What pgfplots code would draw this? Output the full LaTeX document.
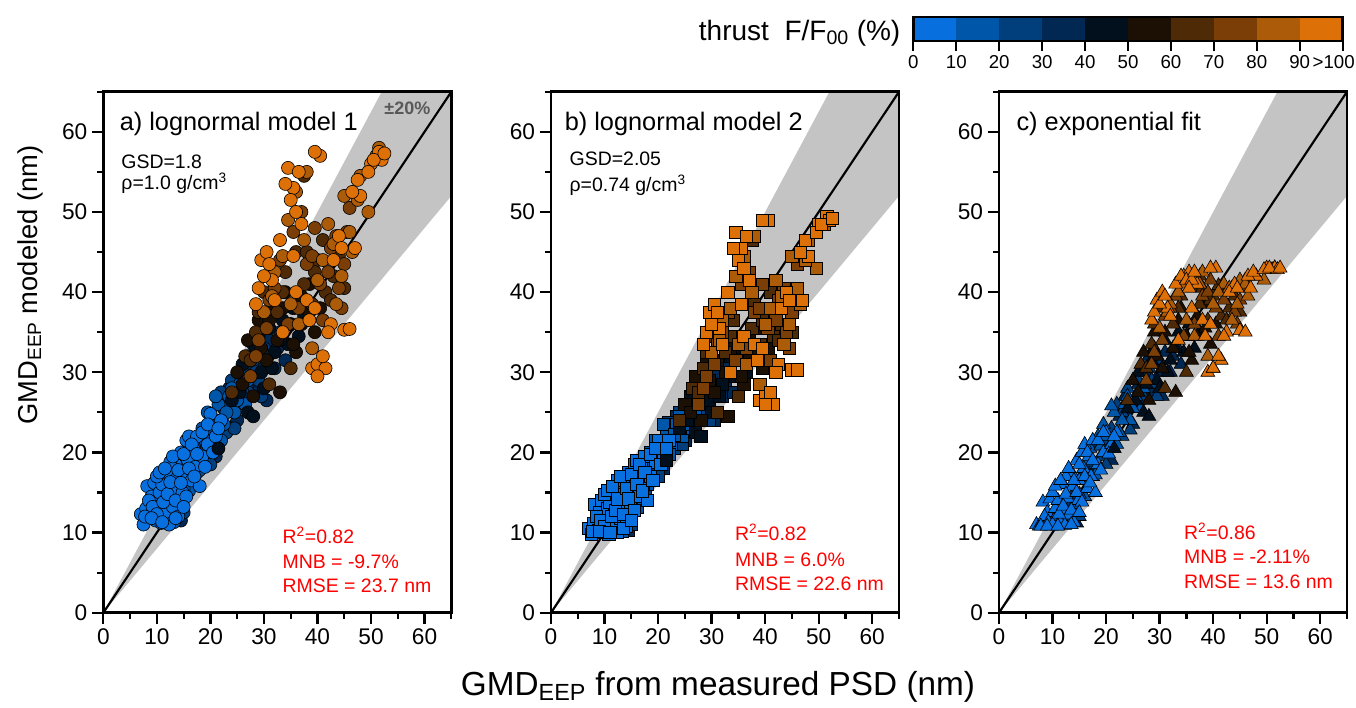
\documentclass[border=0pt]{standalone}
\usepackage{fontspec}
\setmainfont{Liberation Sans}
\usepackage{pgfplots}
\pgfplotsset{compat=1.18}
\usepackage{pgfplotstable}

\definecolor{c0}{RGB}{8,112,222}
\definecolor{c1}{RGB}{0,86,168}
\definecolor{c2}{RGB}{0,62,124}
\definecolor{c3}{RGB}{0,40,82}
\definecolor{c4}{RGB}{2,16,30}
\definecolor{c5}{RGB}{28,16,4}
\definecolor{c6}{RGB}{78,42,6}
\definecolor{c7}{RGB}{122,62,6}
\definecolor{c8}{RGB}{172,92,8}
\definecolor{c9}{RGB}{222,112,8}
\definecolor{band}{RGB}{196,196,196}

\pgfplotstableread{
x ya yb yc c
12.0 12.0 10.5 11.5 c3
14.5 11.5 10.3 11.2 c3
16.5 18.5 16.0 17.8 c3
18.0 21.5 19.0 20.8 c3
20.5 23.0 20.5 22.2 c3
22.5 25.5 22.5 24.5 c3
23.5 28.0 24.5 27.0 c3
25.0 24.0 21.5 23.5 c3
26.0 29.5 25.5 28.5 c3
27.5 31.0 27.0 30.0 c3
28.5 28.0 25.0 27.5 c3
29.5 32.5 28.0 31.0 c3
31.0 34.0 29.5 32.5 c3
32.0 30.5 27.0 30.0 c3
33.0 35.0 30.5 33.5 c3
30.5 26.5 24.0 27.0 c3
14.0 16.0 14.0 15.0 c3
19.5 22.5 20.0 21.5 c3
21.0 19.5 18.0 19.0 c3
24.0 25.5 22.5 24.5 c3
27.0 28.5 25.0 28.0 c3
28.0 33.5 29.0 32.0 c3
30.0 30.5 27.0 30.0 c3
32.5 33.0 29.0 32.0 c3
34.0 31.5 27.5 31.0 c3
13.0 14.0 12.5 13.0 c2
15.0 12.5 11.0 12.0 c2
17.5 17.5 15.5 17.0 c2
19.0 20.0 18.0 19.5 c2
21.0 24.0 21.0 23.0 c2
22.0 27.5 23.8 26.0 c2
23.0 22.5 20.5 22.0 c2
24.0 29.0 25.0 28.0 c2
25.0 26.5 23.5 25.5 c2
26.0 30.0 26.0 29.0 c2
27.0 27.5 24.5 27.0 c2
28.0 31.5 27.5 30.5 c2
29.0 29.0 25.5 28.5 c2
30.0 33.0 28.5 31.5 c2
20.0 18.5 17.0 18.5 c2
16.0 17.0 15.0 16.5 c2
18.0 19.0 17.0 18.5 c2
20.0 22.5 20.0 21.5 c2
21.5 21.0 19.0 20.5 c2
23.0 26.0 22.8 25.0 c2
24.5 23.0 21.0 22.8 c2
26.0 27.5 24.2 26.5 c2
27.0 32.0 28.0 30.5 c2
28.5 30.0 26.5 29.0 c2
29.5 27.0 24.0 27.0 c2
12.5 13.5 12.0 12.8 c1
14.0 14.5 12.5 13.5 c1
15.5 18.0 16.0 17.2 c1
17.0 21.0 18.5 20.5 c1
18.5 23.0 20.0 22.0 c1
19.5 25.0 21.5 23.5 c1
20.5 21.5 19.5 20.5 c1
21.5 26.0 22.5 25.0 c1
22.5 23.5 21.0 22.5 c1
23.5 27.0 23.5 26.0 c1
24.5 25.0 22.0 24.0 c1
25.5 28.5 25.0 27.0 c1
26.5 26.0 23.0 25.5 c1
16.0 15.2 13.2 14.5 c1
13.2 11.3 10.2 11.0 c1
15.0 15.5 13.8 14.8 c1
16.5 19.5 17.2 18.8 c1
18.0 17.8 16.0 17.2 c1
19.0 21.5 19.0 20.8 c1
20.0 23.0 20.2 22.0 c1
21.0 27.0 23.5 25.8 c1
22.0 21.5 19.8 21.0 c1
23.0 25.0 22.2 24.0 c1
24.0 28.0 24.5 27.0 c1
25.0 26.5 23.5 25.5 c1
27.0 29.0 25.5 28.0 c1
7.0 12.3 10.5 11.0 c0
7.5 11.0 9.8 10.8 c0
8.0 13.0 11.2 11.2 c0
8.2 15.8 13.5 13.8 c0
8.8 12.0 10.3 10.9 c0
9.0 14.5 12.5 12.5 c0
9.5 16.2 14.0 14.2 c0
9.8 11.5 10.0 10.8 c0
10.2 13.0 11.5 11.5 c0
10.5 15.0 13.0 13.0 c0
10.8 11.2 9.8 10.8 c0
11.0 16.0 13.8 14.0 c0
11.5 12.5 11.0 11.2 c0
11.8 14.2 12.3 12.8 c0
12.0 17.5 15.5 16.0 c0
12.3 11.0 10.0 10.9 c0
12.8 15.5 13.5 14.3 c0
13.0 13.2 11.8 12.2 c0
13.5 18.5 16.5 17.5 c0
13.8 16.8 14.8 15.8 c0
14.0 12.0 10.8 11.3 c0
14.5 20.0 17.5 19.0 c0
14.8 15.0 13.0 14.0 c0
15.0 17.5 15.5 16.5 c0
15.5 21.5 18.5 20.0 c0
15.8 19.0 16.5 18.0 c0
16.0 22.0 19.0 21.0 c0
16.5 16.5 14.5 15.5 c0
16.8 20.5 18.0 19.5 c0
17.2 18.2 16.0 17.0 c0
17.5 22.0 19.5 21.5 c0
18.0 15.8 14.0 15.0 c0
18.5 19.5 17.0 18.5 c0
19.5 21.0 18.8 20.0 c0
20.0 24.8 21.5 22.5 c0
21.0 22.0 20.0 21.0 c0
22.0 24.0 21.5 22.5 c0
12.5 18.8 16.5 17.0 c0
10.0 17.0 14.8 15.0 c0
8.5 14.0 12.0 12.0 c0
9.2 13.2 11.5 11.3 c0
10.0 12.3 10.8 11.0 c0
10.5 17.5 15.3 15.8 c0
11.2 13.8 12.0 12.3 c0
11.5 18.0 15.8 16.5 c0
12.0 14.8 12.8 13.3 c0
12.5 16.3 14.2 14.8 c0
13.0 19.5 17.0 18.0 c0
13.5 14.0 12.3 12.8 c0
14.0 17.8 15.5 16.5 c0
14.5 16.2 14.2 15.0 c0
15.0 19.8 17.3 18.5 c0
15.5 14.5 12.8 13.8 c0
16.0 18.0 16.0 17.0 c0
16.5 21.0 18.5 20.0 c0
17.0 17.0 15.2 16.2 c0
17.5 19.8 17.5 19.0 c0
18.5 22.5 19.8 21.5 c0
19.0 18.2 16.5 17.8 c0
19.5 23.5 20.5 22.5 c0
20.5 20.0 18.5 19.8 c0
21.5 23.0 20.5 22.0 c0
7.8 12.0 10.2 10.8 c0
9.0 11.8 10.2 10.8 c0
11.0 11.3 10.0 10.8 c0
13.5 11.8 10.5 11.0 c0
15.0 13.2 11.5 12.5 c0
21.5 20.5 19.0 20.5 c4
24.0 26.5 23.0 25.5 c4
26.0 31.0 27.0 30.0 c4
27.0 25.0 22.5 25.0 c4
28.5 33.0 28.5 31.5 c4
29.5 30.0 26.5 29.0 c4
31.0 35.5 31.0 34.0 c4
32.0 32.5 28.5 31.5 c4
33.5 36.5 32.0 35.0 c4
34.5 33.5 29.5 32.5 c4
35.5 38.0 33.0 36.0 c4
36.5 34.5 30.0 33.0 c4
30.0 28.0 25.0 28.0 c4
25.5 27.5 24.0 26.5 c4
27.5 29.5 26.0 28.5 c4
29.0 34.5 30.0 33.0 c4
31.5 30.5 27.0 30.0 c4
33.0 34.0 30.0 33.0 c4
35.0 36.0 31.5 34.5 c4
37.5 37.0 32.0 35.0 c4
28.0 24.5 22.0 24.5 c4
25.0 30.0 26.0 29.0 c5
27.0 34.0 29.5 32.5 c5
28.0 27.0 24.0 26.5 c5
29.0 36.5 31.5 35.0 c5
30.5 31.5 27.5 30.5 c5
31.5 38.5 33.5 37.0 c5
32.5 34.0 30.0 33.0 c5
34.0 40.0 34.5 38.0 c5
35.0 36.0 31.5 34.5 c5
36.0 32.5 28.5 31.5 c5
37.0 39.5 34.0 37.0 c5
38.5 37.5 32.5 35.5 c5
39.5 35.0 30.5 33.5 c5
33.0 27.5 24.5 27.5 c5
26.0 28.5 25.0 27.5 c5
29.5 33.0 29.0 32.0 c5
31.0 36.5 31.5 35.0 c5
33.5 38.0 33.0 36.5 c5
35.5 33.5 29.5 32.5 c5
37.0 36.0 31.5 34.5 c5
38.5 41.0 35.5 38.5 c5
40.5 38.0 33.0 36.0 c5
24.0 27.5 24.0 26.5 c6
26.5 32.0 28.0 31.0 c6
28.5 35.0 30.5 33.5 c6
30.0 40.0 34.5 38.0 c6
31.0 28.5 25.0 28.0 c6
32.5 37.5 32.5 36.0 c6
34.0 42.5 36.5 39.5 c6
35.0 30.5 27.0 30.0 c6
36.0 45.0 38.5 40.5 c6
37.5 41.0 35.5 38.5 c6
39.0 38.5 33.5 36.5 c6
40.0 44.0 37.5 39.5 c6
41.5 40.0 34.5 37.0 c6
43.0 42.0 36.0 38.0 c6
27.5 31.5 27.5 30.5 c6
29.0 37.5 32.5 36.0 c6
33.5 40.0 34.5 38.0 c6
38.0 45.0 38.5 40.5 c6
39.5 42.5 36.5 39.0 c6
41.0 46.5 40.0 40.8 c6
42.5 39.0 34.0 36.5 c6
44.0 44.5 38.0 39.5 c6
45.0 40.5 35.0 37.5 c6
37.5 54.5 46.5 42.0 c6
27.5 29.5 26.0 29.0 c7
29.0 34.0 29.5 32.5 c7
31.0 39.0 33.5 37.0 c7
33.0 44.0 37.5 39.5 c7
35.5 47.5 41.0 41.5 c7
36.5 38.0 33.0 36.0 c7
38.0 43.5 37.5 39.5 c7
39.5 48.0 41.0 41.5 c7
41.0 36.5 31.5 34.5 c7
42.5 45.5 39.0 40.0 c7
44.0 40.5 35.0 37.5 c7
45.5 47.5 40.5 40.5 c7
37.0 50.0 42.5 41.5 c7
30.5 35.5 31.0 34.0 c7
32.0 40.5 35.0 38.0 c7
34.5 36.0 31.5 34.5 c7
39.0 44.5 38.0 40.0 c7
40.5 41.0 35.5 38.0 c7
42.0 42.5 36.5 39.0 c7
43.5 47.0 40.5 40.5 c7
45.0 43.5 37.5 39.0 c7
46.0 50.5 43.5 41.5 c7
44.5 38.0 33.0 36.0 c7
28.5 32.0 28.0 31.0 c7
30.0 37.5 32.5 35.5 c8
32.0 42.5 36.5 38.5 c8
34.5 49.0 42.0 41.0 c8
36.0 52.5 44.5 42.0 c8
38.0 55.0 47.0 42.5 c8
40.0 41.5 36.0 38.5 c8
42.0 48.5 41.5 41.0 c8
43.5 38.5 33.5 36.5 c8
45.0 52.0 44.5 41.5 c8
46.5 45.0 38.5 39.5 c8
48.0 54.5 46.5 42.0 c8
49.5 50.0 43.0 41.5 c8
51.0 57.0 48.5 42.8 c8
39.0 33.0 28.5 32.0 c8
31.5 39.5 34.0 37.5 c8
33.5 44.5 38.0 40.0 c8
35.0 38.5 33.5 36.5 c8
37.5 46.5 40.0 41.0 c8
41.0 44.0 38.0 40.0 c8
43.0 46.0 39.5 40.5 c8
44.5 42.0 36.0 38.5 c8
46.0 47.5 40.5 41.0 c8
47.5 51.5 44.0 42.0 c8
51.5 58.0 49.5 43.0 c8
36.5 36.0 31.0 34.5 c8
28.5 38.5 33.5 36.5 c9
29.5 44.0 37.5 39.0 c9
30.5 45.0 38.5 40.0 c9
31.5 41.5 35.5 38.0 c9
33.0 46.5 40.0 41.0 c9
34.5 55.5 47.5 42.0 c9
35.5 53.0 45.5 42.5 c9
37.0 48.5 41.5 41.0 c9
38.5 36.5 31.5 34.5 c9
39.0 30.5 26.5 30.0 c9
40.0 31.0 27.0 30.5 c9
40.5 57.0 49.0 43.0 c9
41.5 30.5 26.0 31.5 c9
42.5 36.0 31.0 35.0 c9
44.0 47.0 40.0 41.0 c9
45.0 35.3 30.3 35.2 c9
46.0 35.4 30.3 35.0 c9
47.0 45.5 39.0 40.5 c9
48.0 52.0 44.5 42.0 c9
50.0 56.0 48.5 43.0 c9
51.5 57.5 49.5 43.0 c9
52.0 56.5 49.0 42.8 c9
36.0 40.0 34.5 38.0 c9
33.5 35.0 30.0 34.0 c9
29.0 40.5 35.0 37.5 c9
30.0 42.0 36.0 38.5 c9
31.0 43.5 37.5 39.5 c9
32.0 39.0 33.5 37.0 c9
34.0 53.5 45.5 42.0 c9
35.0 51.5 44.0 41.5 c9
36.0 50.0 43.0 41.5 c9
36.5 55.0 47.0 42.5 c9
39.5 57.5 49.0 43.0 c9
38.0 39.0 33.5 36.5 c9
39.5 38.0 33.0 36.0 c9
40.0 29.5 26.0 30.5 c9
41.0 32.0 27.5 32.0 c9
43.0 44.0 38.0 40.0 c9
44.5 45.5 39.0 40.5 c9
46.5 52.5 45.0 42.0 c9
47.5 54.0 46.5 42.5 c9
49.5 55.0 47.5 42.8 c9
50.5 56.5 48.5 43.0 c9
52.5 57.3 49.2 43.0 c9
42.0 35.0 30.0 34.5 c9
35.5 44.5 38.5 40.5 c9
}\data

\pgfplotsset{
  panel/.style={
    anchor=south west, scale only axis, width=261pt, height=390.75pt,
    xmin=0, xmax=65, ymin=0, ymax=65,
    xtick={0,10,...,60}, ytick={0,10,...,60},
    minor xtick={5,15,...,65}, minor ytick={5,15,...,65},
    tick align=outside, xtick pos=left, ytick pos=left,
    major tick length=8.5pt, minor tick length=4.5pt,
    axis line style={line width=2pt},
    tick style={line width=1.7pt, black},
    ticklabel style={font=\fontsize{17}{17}\selectfont},
    /pgf/number format/assume math mode=true,
    axis on top,
  },
  scat/.style={scatter, only marks, scatter src=explicit symbolic,
    scatter/classes={
      c0={draw=black,fill=c0}, c1={draw=black,fill=c1},
      c2={draw=black,fill=c2}, c3={draw=black,fill=c3},
      c4={draw=black,fill=c4}, c5={draw=black,fill=c5},
      c6={draw=black,fill=c6}, c7={draw=black,fill=c7},
      c8={draw=black,fill=c8}, c9={draw=black,fill=c9}},
    mark options={line width=0.45pt},
  },
}
\tikzset{
  ptitle/.style={anchor=base west, font=\fontsize{19}{19}\selectfont},
  pinfo/.style={anchor=base west, font=\fontsize{14.6}{14.6}\selectfont},
  pstat/.style={anchor=base west, font=\fontsize{14.6}{14.6}\selectfont, text=red},
}

\begin{document}
\begin{tikzpicture}
\useasboundingbox (0,0) rectangle (1017pt,530.25pt);

% ---------- panel a ----------
\begin{axis}[panel, at={(77.5pt,70.7pt)}]
\addplot[fill=band, draw=none] coordinates {(0,0) (65,52) (65,65) (52,65) (0,0)};
\addplot[black, line width=1.6pt] coordinates {(0,0) (65,65)};
\addplot[scat, mark=*, mark size=4.9pt] table[x=x, y=ya, meta=c] {\data};
\node[ptitle] at (axis cs:2.2,60.2) {a) lognormal model 1};
\node[pinfo] at (axis cs:2.5,55.4) {GSD=1.8};
\node[pinfo] at (axis cs:2.5,52.8) {ρ=1.0 g/cm\textsuperscript{3}};
\node[font=\bfseries\fontsize{13.5}{13.5}\selectfont, text=black!65] at (axis cs:56.8,62.9) {±20\%};
\node[pstat] at (axis cs:32.6,8.65) {R\textsuperscript{2}=0.82};
\node[pstat] at (axis cs:32.6,5.53) {MNB = -9.7\%};
\node[pstat] at (axis cs:32.6,2.50) {RMSE = 23.7 nm};
\end{axis}

% ---------- panel b ----------
\begin{axis}[panel, at={(413.25pt,70.7pt)}]
\addplot[fill=band, draw=none] coordinates {(0,0) (65,52) (65,65) (52,65) (0,0)};
\addplot[black, line width=1.6pt] coordinates {(0,0) (65,65)};
\addplot[scat, mark=square*, mark size=4.6pt] table[x=x, y=yb, meta=c] {\data};
\node[ptitle] at (axis cs:1.7,60.2) {b) lognormal model 2};
\node[pinfo] at (axis cs:2.6,55.8) {GSD=2.05};
\node[pinfo] at (axis cs:2.6,52.6) {ρ=0.74 g/cm\textsuperscript{3}};
\node[pstat] at (axis cs:33.5,8.98) {R\textsuperscript{2}=0.82};
\node[pstat] at (axis cs:33.5,5.82) {MNB = 6.0\%};
\node[pstat] at (axis cs:33.5,2.74) {RMSE = 22.6 nm};
\end{axis}

% ---------- panel c ----------
\begin{axis}[panel, at={(749.25pt,70.7pt)}]
\addplot[fill=band, draw=none] coordinates {(0,0) (65,52) (65,65) (52,65) (0,0)};
\addplot[black, line width=1.6pt] coordinates {(0,0) (65,65)};
\addplot[scat, mark=triangle*, mark size=6pt] table[x=x, y=yc, meta=c] {\data};
\node[ptitle] at (axis cs:2.4,60.2) {c) exponential fit};
\node[pstat] at (axis cs:33.7,9.19) {R\textsuperscript{2}=0.86};
\node[pstat] at (axis cs:33.7,6.16) {MNB = -2.11\%};
\node[pstat] at (axis cs:33.7,3.04) {RMSE = 13.6 nm};
\end{axis}

% ---------- colour bar ----------
\begin{axis}[anchor=south west, at={(685pt,499.5pt)}, scale only axis,
  width=322pt, height=18pt,
  xmin=0, xmax=10, ymin=0, ymax=1, ytick=\empty,
  xtick={0,1,...,10},
  xticklabels={0,10,20,30,40,50,60,70,80,90,{\makebox[0pt]{\hspace*{-13.5pt}>100}}},
  tick align=outside, xtick pos=left, major tick length=7.5pt,
  axis line style={line width=2pt}, tick style={line width=1.7pt, black},
  ticklabel style={font=\fontsize{14}{14}\selectfont},
  axis on top]
\addplot[fill=c0, draw=none] coordinates {(0,0) (1,0) (1,1) (0,1)};
\addplot[fill=c1, draw=none] coordinates {(1,0) (2,0) (2,1) (1,1)};
\addplot[fill=c2, draw=none] coordinates {(2,0) (3,0) (3,1) (2,1)};
\addplot[fill=c3, draw=none] coordinates {(3,0) (4,0) (4,1) (3,1)};
\addplot[fill=c4, draw=none] coordinates {(4,0) (5,0) (5,1) (4,1)};
\addplot[fill=c5, draw=none] coordinates {(5,0) (6,0) (6,1) (5,1)};
\addplot[fill=c6, draw=none] coordinates {(6,0) (7,0) (7,1) (6,1)};
\addplot[fill=c7, draw=none] coordinates {(7,0) (8,0) (8,1) (7,1)};
\addplot[fill=c8, draw=none] coordinates {(8,0) (9,0) (9,1) (8,1)};
\addplot[fill=c9, draw=none] coordinates {(9,0) (10,0) (10,1) (9,1)};
\end{axis}

\node[anchor=east, font=\fontsize{21}{21}\selectfont] at (678.75pt,505.5pt) {thrust\ \ F/F\textsubscript{00} (\%)};

% ---------- axis labels ----------
\node[rotate=90, font=\fontsize{20.5}{20.5}\selectfont] at (22.5pt,316.5pt) {GMD\textsubscript{EEP} modeled (nm)};
\node[font=\fontsize{25}{25}\selectfont] at (538.5pt,15pt) {GMD\textsubscript{EEP} from measured PSD (nm)};
\end{tikzpicture}
\end{document}
